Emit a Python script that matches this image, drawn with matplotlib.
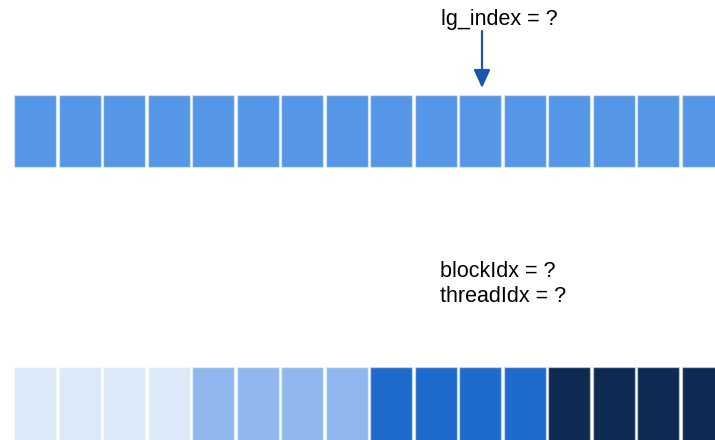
import matplotlib.pyplot as plt
from matplotlib.patches import Rectangle

plt.rcParams['font.family'] = ['Liberation Sans', 'DejaVu Sans']

# data
n_cells = 16
top_color = '#5596e6'
group_size = 4
group_colors = ['#dce9f9', '#91b8ee', '#1f6bcd', '#0d2a52']
top_label = 'lg_index = ?'
bottom_labels = ['blockIdx = ?', 'threadIdx = ?']
pointed_cell = 10

# layout in pixels
x0, pitch, cell_w = 14, 44.5, 42
top_y, bot_y, cell_h = 95, 367, 72

fig = plt.figure(figsize=(7.15, 4.4), dpi=100)
ax = fig.add_axes([0, 0, 1, 1])
ax.set_xlim(0, 715)
ax.set_ylim(440, 0)
ax.axis('off')

for i in range(n_cells):
    left = x0 + i * pitch
    ax.add_patch(Rectangle((left, top_y), cell_w, cell_h, facecolor=top_color,
                           edgecolor=(1, 1, 1, 0.45), linewidth=1))
    ax.add_patch(Rectangle((left, bot_y), cell_w, cell_h + 10,
                           facecolor=group_colors[i // group_size],
                           edgecolor=(1, 1, 1, 0.45), linewidth=1))

ax.text(441, 25, top_label, fontsize=15.5, va='baseline', ha='left')
ax_x = x0 + pointed_cell * pitch + cell_w / 2 + 2
ax.annotate('', xy=(ax_x, 88), xytext=(ax_x, 31),
            arrowprops=dict(arrowstyle='-|>,head_width=0.5,head_length=1.1',
                            mutation_scale=10, color='#1a55b0', lw=1.6,
                            shrinkA=0, shrinkB=0))

for k, lab in enumerate(bottom_labels):
    ax.text(440, 277 + k * 25, lab, fontsize=15.5, va='baseline', ha='left')

fig.savefig('out.png', dpi=100)
